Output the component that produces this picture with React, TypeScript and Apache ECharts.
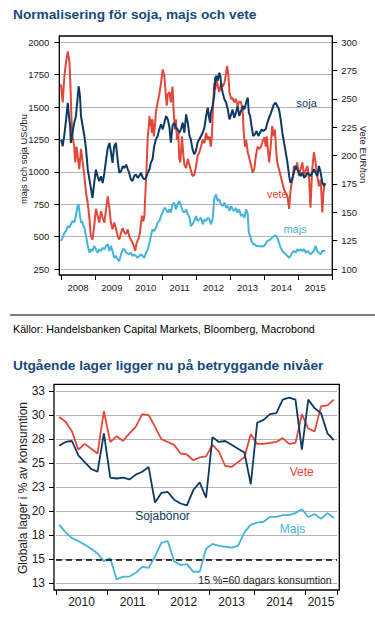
import React, { useEffect, useRef } from 'react';
import * as echarts from 'echarts';

const FONT = "Arial, 'Liberation Sans', Helvetica, sans-serif";
const NAVY = '#0d3a62';
const RED = '#e2483a';
const LIGHT = '#45b4da';
const TITLE = '#18497b';
const INK = '#1a1a1a';

// ---------- Chart 1: prices ----------
const priceYears = ['2008', '2009', '2010', '2011', '2012', '2013', '2014', '2015'];

const soja: [number, number][] = [
  [2008.00,1249],[2008.05,1198],[2008.10,1288],[2008.15,1404],[2008.20,1532],[2008.23,1442],[2008.27,1352],[2008.29,1223],[2008.34,1301],[2008.39,1378],[2008.44,1429],[2008.49,1571],[2008.52,1661],[2008.56,1584],[2008.59,1429],[2008.64,1352],[2008.69,1275],[2008.74,1172],[2008.79,1017],[2008.84,940],[2008.88,876],[2008.93,798],[2008.98,914],
  [2009.03,1017],[2009.08,966],[2009.13,927],[2009.18,966],[2009.23,914],[2009.28,992],[2009.33,1095],[2009.38,1185],[2009.43,1223],[2009.47,1159],[2009.52,1069],[2009.57,1198],[2009.62,1223],[2009.67,1095],[2009.72,992],[2009.77,1004],[2009.82,1043],[2009.87,1030],[2009.92,1056],[2009.97,1020],
  [2010.01,993],[2010.06,942],[2010.11,929],[2010.16,968],[2010.21,980],[2010.26,955],[2010.31,968],[2010.36,993],[2010.41,955],[2010.46,942],[2010.51,955],[2010.56,993],[2010.61,1020],[2010.65,1071],[2010.70,1097],[2010.75,1200],[2010.80,1251],[2010.85,1277],[2010.90,1328],[2010.95,1367],
  [2011.00,1328],[2011.05,1379],[2011.10,1431],[2011.15,1405],[2011.20,1341],[2011.24,1225],[2011.29,1354],[2011.34,1379],[2011.39,1341],[2011.44,1328],[2011.49,1302],[2011.54,1328],[2011.59,1379],[2011.64,1302],[2011.69,1444],[2011.74,1379],[2011.79,1277],[2011.83,1251],[2011.88,1174],[2011.93,1135],[2011.98,1161],
  [2012.03,1226],[2012.08,1251],[2012.13,1277],[2012.18,1302],[2012.23,1341],[2012.28,1431],[2012.33,1495],[2012.36,1431],[2012.40,1379],[2012.42,1457],[2012.47,1508],[2012.52,1586],[2012.55,1727],[2012.59,1740],[2012.62,1701],[2012.67,1765],[2012.70,1740],[2012.73,1663],[2012.77,1611],[2012.82,1560],[2012.87,1534],[2012.92,1482],[2012.97,1405],
  [2013.02,1444],[2013.06,1482],[2013.11,1418],[2013.16,1457],[2013.21,1508],[2013.26,1431],[2013.31,1470],[2013.36,1508],[2013.41,1482],[2013.46,1534],[2013.51,1573],[2013.54,1457],[2013.58,1431],[2013.62,1354],[2013.67,1277],[2013.72,1290],[2013.77,1315],[2013.82,1277],[2013.87,1302],[2013.92,1328],[2013.97,1315],
  [2014.04,1330],[2014.09,1380],[2014.14,1420],[2014.18,1444],[2014.23,1483],[2014.28,1521],[2014.33,1534],[2014.38,1508],[2014.43,1483],[2014.48,1405],[2014.53,1302],[2014.58,1225],[2014.63,1148],[2014.68,1071],[2014.73,968],[2014.77,916],[2014.82,942],[2014.87,993],[2014.92,1045],[2014.97,1020],
  [2015.02,993],[2015.07,968],[2015.12,993],[2015.17,955],[2015.22,968],[2015.27,993],[2015.32,980],[2015.36,968],[2015.41,993],[2015.46,1020],[2015.51,993],[2015.56,968],[2015.61,1045],[2015.66,993],[2015.71,916],[2015.76,891],[2015.79,911],
];

const majs: [number, number][] = [
  [2008.00,466],[2008.05,492],[2008.10,530],[2008.15,543],[2008.20,582],[2008.25,569],[2008.29,595],[2008.34,620],[2008.39,608],[2008.44,659],[2008.49,736],[2008.52,749],[2008.56,659],[2008.59,608],[2008.62,620],[2008.66,582],[2008.69,569],[2008.74,505],[2008.79,428],[2008.84,376],[2008.88,402],[2008.93,389],[2008.98,428],
  [2009.03,402],[2009.08,376],[2009.13,402],[2009.18,389],[2009.23,415],[2009.28,402],[2009.33,428],[2009.38,441],[2009.43,389],[2009.47,428],[2009.52,389],[2009.57,337],[2009.62,350],[2009.67,325],[2009.72,312],[2009.77,363],[2009.82,402],[2009.87,402],[2009.92,376],
  [2010.01,363],[2010.06,376],[2010.11,350],[2010.16,363],[2010.21,350],[2010.26,337],[2010.31,350],[2010.36,363],[2010.41,350],[2010.46,337],[2010.51,376],[2010.56,402],[2010.61,453],[2010.65,505],[2010.70,556],[2010.75,543],[2010.80,569],[2010.85,608],[2010.90,620],[2010.95,659],
  [2011.00,685],[2011.05,723],[2011.10,710],[2011.15,685],[2011.20,710],[2011.24,685],[2011.29,749],[2011.34,762],[2011.39,710],[2011.44,749],[2011.49,775],[2011.54,736],[2011.59,698],[2011.64,685],[2011.69,710],[2011.74,672],[2011.79,646],[2011.83,582],[2011.88,595],[2011.93,620],[2011.98,659],
  [2012.03,620],[2012.08,633],[2012.13,646],[2012.18,595],[2012.23,633],[2012.28,620],[2012.33,646],[2012.38,633],[2012.42,595],[2012.47,633],[2012.52,788],[2012.57,827],[2012.62,775],[2012.67,788],[2012.72,749],[2012.77,736],[2012.82,762],[2012.87,723],[2012.92,736],[2012.97,698],
  [2013.02,736],[2013.06,710],[2013.11,698],[2013.16,723],[2013.21,685],[2013.26,710],[2013.31,659],[2013.36,672],[2013.41,646],[2013.46,710],[2013.51,672],[2013.54,530],[2013.58,505],[2013.62,466],[2013.67,441],[2013.72,441],[2013.77,428],[2013.82,428],[2013.87,423],[2013.92,428],[2013.97,423],
  [2014.04,445],[2014.09,466],[2014.18,479],[2014.23,492],[2014.28,505],[2014.33,510],[2014.38,492],[2014.43,453],[2014.48,415],[2014.53,389],[2014.58,376],[2014.63,363],[2014.68,350],[2014.73,337],[2014.77,350],[2014.82,376],[2014.87,389],[2014.92,376],[2014.97,402],
  [2015.02,389],[2015.07,402],[2015.12,389],[2015.17,402],[2015.22,376],[2015.27,389],[2015.32,376],[2015.36,363],[2015.41,376],[2015.46,389],[2015.51,428],[2015.56,389],[2015.61,376],[2015.66,363],[2015.71,389],[2015.76,389],[2015.79,395],
];

const vete: [number, number][] = [
  [2008.00,263],[2008.05,247],[2008.10,270],[2008.15,283],[2008.20,292],[2008.25,282],[2008.28,261],[2008.31,232],[2008.34,217],[2008.39,208],[2008.42,194],[2008.46,208],[2008.49,200],[2008.54,188],[2008.59,206],[2008.64,194],[2008.69,182],[2008.74,167],[2008.79,158],[2008.84,144],[2008.88,129],[2008.93,126],[2008.98,138],
  [2009.03,153],[2009.08,147],[2009.13,141],[2009.18,151],[2009.23,145],[2009.28,141],[2009.33,153],[2009.38,164],[2009.43,153],[2009.47,141],[2009.52,135],[2009.57,141],[2009.62,136],[2009.67,129],[2009.72,126],[2009.77,132],[2009.82,136],[2009.87,132],[2009.92,131],[2009.97,135],
  [2010.01,129],[2010.06,126],[2010.11,123],[2010.16,119],[2010.19,116],[2010.23,123],[2010.29,127],[2010.33,132],[2010.36,141],[2010.39,147],[2010.43,142],[2010.46,147],[2010.49,167],[2010.53,194],[2010.56,217],[2010.59,226],[2010.61,235],[2010.63,226],[2010.66,232],[2010.68,220],[2010.70,232],[2010.74,217],[2010.77,226],[2010.80,238],[2010.85,247],[2010.90,254],[2010.95,264],
  [2011.00,276],[2011.05,270],[2011.08,258],[2011.12,244],[2011.15,254],[2011.20,256],[2011.24,247],[2011.29,261],[2011.32,241],[2011.36,223],[2011.39,232],[2011.42,214],[2011.46,220],[2011.49,197],[2011.52,194],[2011.57,217],[2011.61,200],[2011.64,192],[2011.69,189],[2011.74,197],[2011.79,192],[2011.83,187],[2011.88,182],[2011.93,183],[2011.98,190],
  [2012.03,200],[2012.08,203],[2012.13,208],[2012.18,214],[2012.23,211],[2012.28,220],[2012.33,214],[2012.38,217],[2012.42,208],[2012.45,217],[2012.49,247],[2012.52,264],[2012.55,258],[2012.59,267],[2012.63,261],[2012.67,256],[2012.72,264],[2012.77,261],[2012.82,264],[2012.87,273],[2012.90,279],[2012.94,270],[2012.97,256],
  [2013.02,250],[2013.06,251],[2013.11,247],[2013.16,250],[2013.21,244],[2013.26,248],[2013.31,247],[2013.36,241],[2013.39,220],[2013.43,208],[2013.46,214],[2013.51,203],[2013.56,197],[2013.61,191],[2013.65,185],[2013.70,188],[2013.75,200],[2013.80,208],[2013.85,206],[2013.90,208],[2013.95,213],
  [2014.00,216],[2014.04,208],[2014.07,217],[2014.11,203],[2014.14,194],[2014.18,206],[2014.23,226],[2014.28,217],[2014.31,223],[2014.35,203],[2014.38,194],[2014.43,188],[2014.48,182],[2014.53,176],[2014.58,170],[2014.63,167],[2014.68,164],[2014.73,153],[2014.755,164],[2014.79,173],[2014.84,182],[2014.87,191],[2014.92,188],[2014.97,194],
  [2015.02,182],[2015.07,188],[2015.12,194],[2015.17,182],[2015.22,187],[2015.27,191],[2015.32,179],[2015.36,154],[2015.41,188],[2015.46,203],[2015.51,194],[2015.56,182],[2015.61,173],[2015.66,179],[2015.71,150],[2015.74,167],[2015.78,176],
];

// ---------- Chart 2: stocks ----------
const stockYears = [2010, 2011, 2012, 2013, 2014, 2015];
const stockPointsPerYear = [8, 8, 8, 7, 8, 5];
const stockVete = [29.8, 29.3, 28.3, 26.4, 27.0, 26.5, 26.0, 30.4, 27.2, 27.8, 27.3, 28.1, 28.8, 30.1, 30.0, 28.8, 27.5, 27.2, 26.9, 26.0, 25.9, 25.3, 25.6, 25.7, 26.9, 26.2, 24.7, 24.6, 25.1, 25.6, 28.0, 27.0, 27.0, 27.1, 27.2, 27.6, 27.0, 27.1, 30.1, 28.6, 28.3, 30.9, 31.0, 31.6];
const stockSoja = [26.8, 27.2, 27.3, 25.8, 25.1, 24.4, 24.1, 28.1, 23.5, 23.4, 23.5, 23.3, 23.8, 24.1, 24.6, 20.9, 21.9, 22.0, 21.2, 20.8, 20.6, 22.2, 23.0, 21.4, 27.7, 27.2, 27.3, 26.9, 26.5, 26.1, 22.8, 29.2, 29.5, 30.1, 30.2, 31.6, 31.8, 31.6, 26.4, 31.6, 30.7, 30.2, 28.1, 27.4];
const stockMajs = [18.6, 17.8, 17.2, 16.9, 16.5, 16.1, 15.6, 14.8, 15.1, 12.9, 13.2, 13.2, 13.6, 14.2, 14.1, 15.3, 16.7, 16.9, 14.8, 14.4, 14.5, 13.7, 13.7, 16.1, 16.6, 16.4, 16.3, 16.2, 16.4, 17.8, 18.6, 18.8, 18.9, 19.4, 19.4, 19.6, 19.6, 19.8, 20.2, 19.4, 19.7, 19.2, 19.8, 19.3];
const stockTickLabels = ['13', '15', '18', '20', '23', '25', '28', '30', '33'];
const threshold = 15;

// derived category table
const stockPeriods: string[] = [];
const yearStartIdx: number[] = [];
const labelByName: Record<string, string> = {};
stockYears.forEach((y, yi) => {
  const n = stockPointsPerYear[yi];
  const s = stockPeriods.length;
  yearStartIdx.push(s);
  for (let k = 1; k <= n; k++) stockPeriods.push(`${y}:${k}`);
  const mid = Math.floor(n / 2);
  const name = `${y}:${mid + 1}`;
  labelByName[name] = n % 2 === 0 ? `{s|${y}}` : `${y}`;
});

function txt(text: string, x: number, y: number, size: number, color = INK, opts: any = {}) {
  const align = opts.align ?? 'left';
  return {
    type: 'text',
    x,
    y,
    rotation: opts.rotation ?? 0,
    silent: true,
    z: 10,
    style: {
      text,
      fill: color,
      fontSize: size,
      fontWeight: opts.weight ?? 'normal',
      fontFamily: FONT,
      align,
      textAlign: align,
      verticalAlign: 'middle',
      textVerticalAlign: 'middle',
    },
  };
}

export default function App() {
  const ref = useRef<HTMLDivElement>(null);
  useEffect(() => {
    if (!ref.current) return;
    const chart = echarts.init(ref.current, undefined, { renderer: 'svg' });
    const labelStyle = { color: INK, fontFamily: FONT };
    const plain = (v: number) => String(v);
    const option: any = {
      animation: false,
      backgroundColor: '#fff',
      textStyle: { fontFamily: FONT },
      grid: [
        { left: 61, top: 42.3, width: 271.2, height: 226.7, containLabel: false, outerBoundsMode: 'none' },
        { left: 56, top: 391, width: 281, height: 192.3, containLabel: false, outerBoundsMode: 'none' },
      ],
      xAxis: [
        { type: 'value', gridIndex: 0, min: 2008, max: 2016, show: false },
        {
          type: 'category', gridIndex: 0, data: priceYears, boundaryGap: true, position: 'bottom', offset: 6,
          axisLine: { show: false },
          axisTick: { show: true, interval: 0, length: 5, lineStyle: { color: '#000', width: 1 } },
          axisLabel: { ...labelStyle, interval: 0, fontSize: 9.5, margin: 7 },
          splitLine: { show: false },
        },
        {
          type: 'category', gridIndex: 1, data: stockPeriods, boundaryGap: true, position: 'bottom', offset: 6.7,
          axisLine: { show: false },
          axisTick: {
            show: true, length: 5, lineStyle: { color: '#000', width: 1 },
            interval: (i: number) => yearStartIdx.includes(i),
          },
          axisLabel: {
            ...labelStyle, fontSize: 12, margin: 6,
            interval: (_i: number, v: string) => labelByName[v] !== undefined,
            formatter: (v: string) => labelByName[v] ?? '',
            rich: { s: { padding: [0, 6.4, 0, 0], fontSize: 12, fontFamily: FONT, color: INK } },
          },
          splitLine: { show: false },
        },
      ],
      yAxis: [
        {
          type: 'value', gridIndex: 0, position: 'left', min: 250, max: 2000, interval: 250, offset: 1.7,
          axisLine: { show: false },
          axisTick: { show: true, length: 5, lineStyle: { color: '#000' } },
          axisLabel: { ...labelStyle, fontSize: 9.5, margin: 10, formatter: plain },
          splitLine: { show: true, lineStyle: { color: '#b4b4b4', width: 1 } },
        },
        {
          type: 'value', gridIndex: 0, position: 'right', min: 100, max: 300, interval: 25, offset: 0,
          axisLine: { show: false },
          axisTick: { show: true, length: 5, lineStyle: { color: '#000' } },
          axisLabel: { ...labelStyle, fontSize: 9.5, margin: 9, formatter: plain },
          splitLine: { show: false },
        },
        {
          type: 'value', gridIndex: 1, position: 'left', min: 12.5, max: 32.5, interval: 2.5, offset: 2,
          axisLine: { show: false },
          axisTick: { show: true, length: 5, lineStyle: { color: '#000' } },
          axisLabel: {
            ...labelStyle, fontSize: 12, margin: 9,
            formatter: (v: number) => stockTickLabels[Math.round((v - 12.5) / 2.5)] ?? '',
          },
          splitLine: { show: true, lineStyle: { color: '#b4b4b4', width: 1 } },
        },
      ],
      series: [
        { name: 'majs', type: 'line', xAxisIndex: 0, yAxisIndex: 0, data: majs, showSymbol: false, symbol: 'none', lineStyle: { color: LIGHT, width: 2 }, itemStyle: { color: LIGHT } },
        { name: 'vete', type: 'line', xAxisIndex: 0, yAxisIndex: 1, data: vete, showSymbol: false, symbol: 'none', lineStyle: { color: RED, width: 2 }, itemStyle: { color: RED } },
        { name: 'soja', type: 'line', xAxisIndex: 0, yAxisIndex: 0, data: soja, showSymbol: false, symbol: 'none', lineStyle: { color: NAVY, width: 2 }, itemStyle: { color: NAVY } },
        {
          name: 'Majs', type: 'line', xAxisIndex: 2, yAxisIndex: 2, data: stockMajs, showSymbol: false, symbol: 'none',
          lineStyle: { color: LIGHT, width: 1.8 }, itemStyle: { color: LIGHT },
          markLine: {
            silent: true, symbol: ['none', 'none'], label: { show: false },
            lineStyle: { color: '#000', type: [6, 4], width: 1.6 },
            data: [{ yAxis: threshold }],
          },
        },
        { name: 'Vete', type: 'line', xAxisIndex: 2, yAxisIndex: 2, data: stockVete, showSymbol: false, symbol: 'none', lineStyle: { color: RED, width: 1.8 }, itemStyle: { color: RED } },
        { name: 'Sojabönor', type: 'line', xAxisIndex: 2, yAxisIndex: 2, data: stockSoja, showSymbol: false, symbol: 'none', lineStyle: { color: NAVY, width: 1.8 }, itemStyle: { color: NAVY } },
      ],
      graphic: [
        txt('Normalisering för soja, majs och vete', 13, 14, 13.7, TITLE, { weight: 'bold' }),
        { type: 'rect', silent: true, z: 5, shape: { x: 59.3, y: 36, width: 273, height: 239 }, style: { fill: 'none', stroke: '#000', lineWidth: 1.3 } },
        txt('majs och soja USc/bu', 23.5, 159, 9.3, INK, { align: 'center', rotation: Math.PI / 2 }),
        txt('Vete EUR/ton', 363.5, 154.5, 9.5, INK, { align: 'center', rotation: -Math.PI / 2 }),
        txt('soja', 306.7, 102.7, 11, NAVY, { align: 'center' }),
        txt('vete', 277.3, 194, 11, RED, { align: 'center' }),
        txt('majs', 295, 229.3, 11, LIGHT, { align: 'center' }),
        { type: 'line', silent: true, shape: { x1: 10, y1: 315, x2: 375, y2: 315 }, style: { stroke: '#000', lineWidth: 1.2 } },
        txt('Källor: Handelsbanken Capital Markets, Bloomberg, Macrobond', 13, 329.3, 10.7, '#000'),
        txt('Utgående lager ligger nu på betryggande nivåer', 13, 365, 13.7, TITLE, { weight: 'bold' }),
        { type: 'rect', silent: true, z: 5, shape: { x: 54, y: 384.3, width: 285.3, height: 205.7 }, style: { fill: 'none', stroke: '#000', lineWidth: 1.3 } },
        txt('Globala lager i % av konsumtion', 23.3, 488, 12, INK, { align: 'center', rotation: Math.PI / 2 }),
        txt('Vete', 301.7, 471.7, 12, RED, { align: 'center' }),
        txt('Majs', 292.5, 529.3, 12, LIGHT, { align: 'center' }),
        txt('Sojabönor', 162.5, 515.7, 12, NAVY, { align: 'center' }),
        txt('15 %=60 dagars konsumtion', 265, 580, 10.5, INK, { align: 'center' }),
      ],
    };
    chart.setOption(option);
    return () => chart.dispose();
  }, []);
  return (
    <div
      ref={ref}
      style={{ position: 'absolute', left: 0, top: 0, width: 375, height: 626, background: '#fff' }}
    />
  );
}
